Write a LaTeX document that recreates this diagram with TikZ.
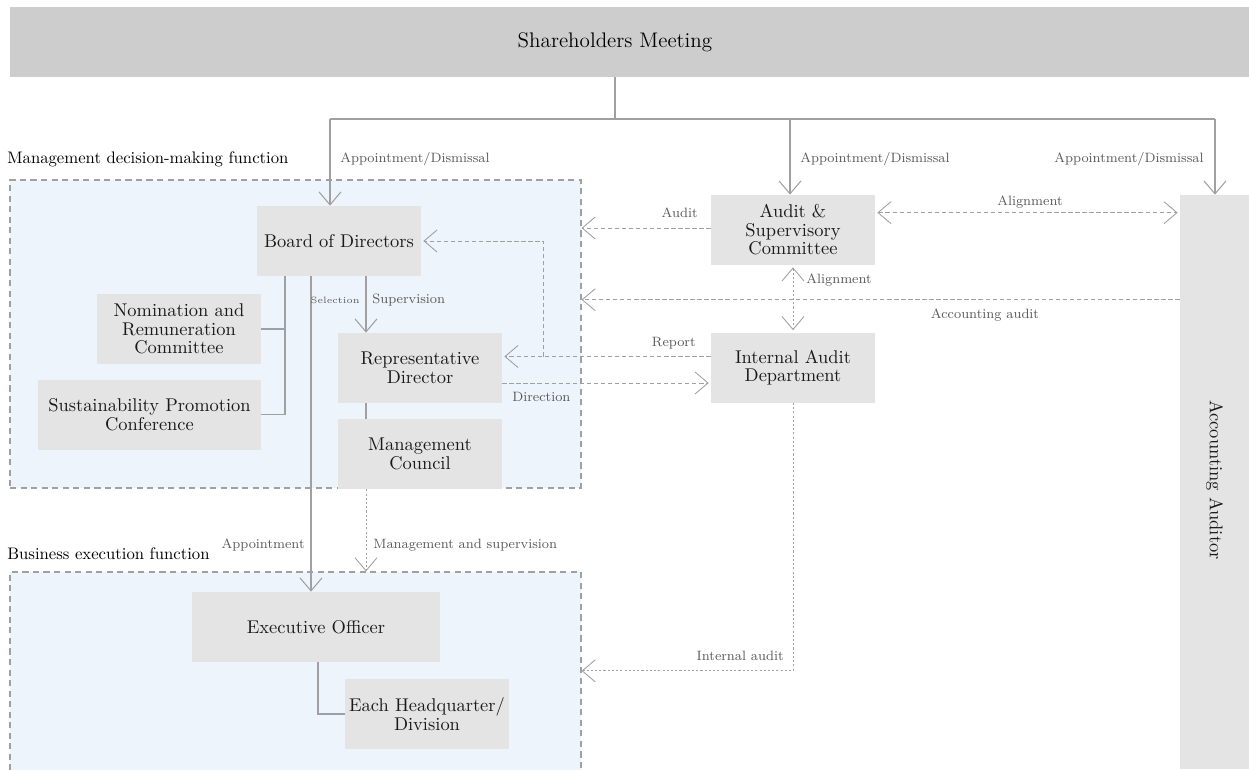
\documentclass[tikz,border=0pt]{standalone}
\usepackage{tikz}
\usetikzlibrary{arrows.meta,positioning,calc}
\definecolor{cgbox}{HTML}{E4E4E4}
\definecolor{cgtop}{HTML}{CDCDCD}
\definecolor{cgarea}{HTML}{EEF4FB}
\definecolor{cgline}{HTML}{A0A0A0}
\definecolor{cglabel}{HTML}{5A5A5A}

\begin{document}
\begin{tikzpicture}[
  x=0.02cm, y=-0.02cm,
  box/.style={fill=cgbox, inner sep=0pt, minimum width=3.28cm, minimum height=1.4cm, align=center, text=black!90, font=\fontsize{10.5}{10.5}\selectfont},
  area/.style={fill=cgarea, draw=cgline, line width=0.7pt, dash pattern=on 3.5pt off 2.5pt, inner sep=0pt},
  title/.style={anchor=west, inner sep=0pt, font=\fontsize{9.5}{12}\selectfont},
  lbl/.style={inner sep=0pt, text=cglabel, font=\fontsize{7.7}{10}\selectfont},
  tinylbl/.style={inner sep=0pt, text=cglabel, font=\fontsize{5.2}{7}\selectfont},
  solidln/.style={draw=cgline, line width=0.6pt},
  dashln/.style={draw=cgline, line width=0.5pt, dash pattern=on 2.5pt off 1.5pt},
  dotln/.style={draw=cgline, line width=0.5pt, dash pattern=on 1.2pt off 1.2pt},
  tip/.style={-{Straight Barb[length=2.6mm,width=4.4mm]}},
  dbl/.style={{Straight Barb[length=2.6mm,width=4.4mm]}-{Straight Barb[length=2.6mm,width=4.4mm]}}
]
  \useasboundingbox (0,0) rectangle (1249,769);
  \node[box, fill=cgtop, minimum width=24.78cm] (sh) at (629.5,42) {};
  \node[inner sep=0pt, font=\fontsize{12}{14}\selectfont] (shtext) at (615,42) {Shareholders Meeting};

  \node[title] (mdmtitle) at (7,159) {Management decision-making function};
  \node[area, minimum width=11.42cm, minimum height=6.16cm] (mdm) at (295.5,334) {};
  \node[title] (beftitle) at (7,554) {Business execution function};
  \node[area, minimum width=11.42cm, minimum height=4.1cm] (bef) at (295.5,674.5) {};

  \node[box] (bod) at (339,241) {Board of Directors};
  \node[box] (nrc) at (179,329) {Nomination and\\Remuneration\\Committee};
  \node[box, minimum width=4.46cm] (spc) at (149.5,414.5) {Sustainability Promotion\\Conference};
  \node[box] (rep) at (420,368) {Representative\\Director};
  \node[box] (mc) at (420,454) {Management\\Council};
  \node[box] (asc) at (793,230) {Audit \&\\Supervisory\\Committee};
  \node[box] (iad) at (793,367.5) {Internal Audit\\Department};
  \node[box, minimum width=1.38cm, minimum height=11.48cm] (aa) at (1214.5,482) {};
  \node[inner sep=0pt, rotate=-90, text=black!90, font=\fontsize{10.5}{10.5}\selectfont] (aatext) at (1214.5,480) {Accounting Auditor};
  \node[box, minimum width=4.96cm] (eo) at (316,627) {Executive Officer};
  \node[box] (hq) at (427,714) {Each Headquarter/\\Division};

  \coordinate (bus) at (615,119);
  \coordinate (busL) at (330,119);
  \coordinate (busM) at (790,119);
  \coordinate (busR) at (1215,119);
  \draw[solidln] (shtext |- sh.south) -- (bus);
  \draw[solidln] (busL) -- (busR);
  \draw[solidln, tip] (busL) -- (busL |- bod.north);
  \node[lbl, anchor=west] (l1) at (340,159) {Appointment/Dismissal};
  \draw[solidln, tip] (busM) -- (busM |- asc.north);
  \node[lbl, anchor=west] (l2) at (800,159) {Appointment/Dismissal};
  \draw[solidln, tip] (busR) -- (busR |- aa.north);
  \node[lbl, anchor=east] (l3) at (1204,159) {Appointment/Dismissal};

  \coordinate (bodL) at ($(bod.south)+(-54,0)$);
  \coordinate (bodA) at ($(bod.south)+(-28,0)$);
  \coordinate (bodS) at ($(bod.south)+(27,0)$);
  \draw[solidln] (bodL) |- (spc.east);
  \draw[solidln] (nrc.east) -- (nrc.east -| bodL);
  \draw[solidln, tip] (bodA) -- (bodA |- eo.north);
  \node[lbl, anchor=east] (l4) at (305,545) {Appointment};
  \draw[solidln, tip] (bodS) -- (bodS |- rep.north);
  \node[tinylbl, anchor=east] (l5) at (360,300) {Selection};
  \node[lbl, anchor=west] (l6) at (372,300) {Supervision};
  \draw[solidln] (bodS |- rep.south) -- (bodS |- mc.north);
  \draw[dotln, tip] (bodS |- mc.south) -- (bodS |- bef.north);
  \node[lbl, anchor=west] (l7) at (373,545) {Management and supervision};
  \draw[solidln] (eo.south -| 318,0) |- (hq.west);

  \coordinate (aud) at ($(asc.west)+(0,-2)$);
  \draw[dashln, tip] (aud) -- (aud -| mdm.east);
  \node[lbl, anchor=east] (l8) at (698,213) {Audit};
  \coordinate (alg) at ($(asc.north east)+(2,18)$);
  \draw[dashln, dbl] (alg) -- ($(alg -| aa.west)+(-2,0)$);
  \node[lbl] (l9) at (1030,202) {Alignment};
  \draw[dotln, dbl] ($(asc.south)+(0,2)$) -- ($(iad.north)+(0,-2)$);
  \node[lbl, anchor=west] (l10) at (806,280) {Alignment};
  \coordinate (acc) at ($(aa.north west)+(0,105)$);
  \draw[dashln, tip] (acc) -- (acc -| mdm.east);
  \node[lbl] (l11) at (985,315) {Accounting audit};

  \coordinate (rpt) at ($(iad.west)+(0,-11)$);
  \coordinate (rptK) at ($(rpt)+(-167,0)$);
  \draw[dashln, tip] (rpt) -- ($(rpt -| rep.east)+(2,0)$);
  \draw[dashln, tip] (rptK) |- ($(bod.east)+(2,0)$);
  \node[lbl, anchor=east] (l12) at (696,343) {Report};
  \coordinate (dir) at ($(rep.east)+(0,15)$);
  \draw[dashln, tip] (dir) -- ($(dir -| iad.west)+(-2,0)$);
  \node[lbl, anchor=west] (l13) at (512,397) {Direction};
  \coordinate (iaK) at ($(iad.south)+(0,268)$);
  \draw[dotln, tip] (iad.south) -- (iaK) -- (iaK -| bef.east);
  \node[lbl, anchor=east] (l14) at (784,656) {Internal audit};
\end{tikzpicture}
\end{document}
